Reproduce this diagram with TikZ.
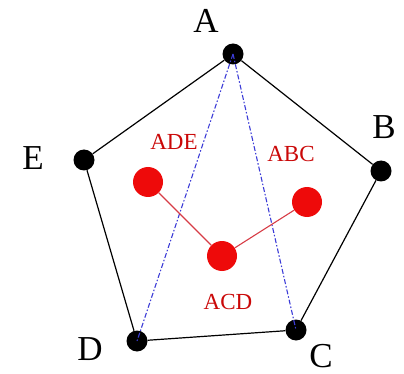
\documentclass[tikz,border=0pt]{standalone}
\usepackage{fontspec}
\setmainfont{Liberation Serif}
\usetikzlibrary{positioning}
\definecolor{facered}{RGB}{238,10,10}
\definecolor{linkred}{RGB}{215,60,70}
\definecolor{diagblue}{RGB}{60,60,215}
\tikzset{
  vertexdot/.style={circle,fill=black,inner sep=0pt,minimum size=21pt},
  facedot/.style={circle,fill=facered,inner sep=0pt,minimum size=30pt},
  vertexlabel/.style={font=\fontsize{35}{35}\selectfont,inner sep=0pt},
  facelabel/.style={font=\fontsize{23}{23}\selectfont,text=facered!85!black,inner sep=0pt},
  edge/.style={black,line width=1.2pt},
  diagonal/.style={diagblue,line width=1.1pt,dash pattern=on 5pt off 2pt on 1.5pt off 2pt},
  link/.style={linkred,line width=1.1pt},
}
\begin{document}
\begin{tikzpicture}[x=1pt,y=-1pt]
  \useasboundingbox (0,0) rectangle (404,374);
  % polygon vertices
  \node[vertexdot] (A) at (233,54) {};
  \node[vertexdot] (B) at (381,171) {};
  \node[vertexdot] (C) at (296,330) {};
  \node[vertexdot] (D) at (137,341) {};
  \node[vertexdot] (E) at (84,160) {};

  \draw[edge] (A)--(B)--(C)--(D)--(E)--(A);
  \draw[diagonal] (A.center)--(D.center);
  \draw[diagonal] (A.center)--(C.center);

  % dual tree
  \node[facedot] (ade) at (148,182) {};
  \node[facedot] (abc) at (307,202) {};
  \node[facedot] (acd) at (222,256) {};

  \draw[link] (ade)--(acd);
  \draw[link] (acd)--(abc);

  % labels
  \node[vertexlabel] at (206,21) {A};
  \node[vertexlabel] at (384,127) {B};
  \node[vertexlabel] at (321,356) {C};
  \node[vertexlabel] at (90,349) {D};
  \node[vertexlabel] at (33,158) {E};

  \node[facelabel] at (174,142) {ADE};
  \node[facelabel] at (291,154) {ABC};
  \node[facelabel] at (228,302) {ACD};
\end{tikzpicture}
\end{document}
